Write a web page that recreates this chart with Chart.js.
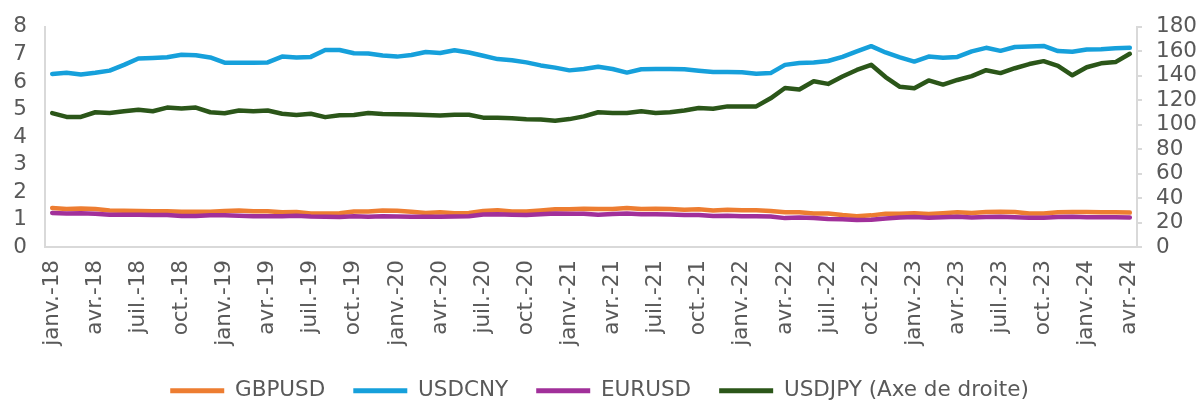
<!DOCTYPE html>
<html>
<head>
<meta charset="utf-8">
<script src="https://cdn.jsdelivr.net/npm/chart.js@4.4.1/dist/chart.umd.min.js"></script>
<style>
html,body{margin:0;padding:0;background:#fff}
#wrap{width:1199px;height:402px}
</style>
</head>
<body>
<div id="wrap"><canvas id="fx" width="1199" height="402"></canvas></div>
<script>
// mois de janv.-18 a avr.-24 (fin de mois)
const moisNoms=["janv.","févr.","mars","avr.","mai","juin","juil.","août","sept.","oct.","nov.","déc."]
const annees=["18","19","20","21","22","23","24"]

const gbpusd=[
1.42,1.38,1.40,1.38,1.33,1.32,1.31,1.30,1.30,1.28,1.28,1.28,
1.31,1.33,1.30,1.30,1.26,1.27,1.22,1.22,1.23,1.29,1.29,1.33,
1.32,1.28,1.24,1.26,1.23,1.24,1.31,1.34,1.29,1.29,1.33,1.37,
1.37,1.39,1.38,1.38,1.42,1.38,1.39,1.38,1.35,1.37,1.33,1.35,
1.34,1.34,1.31,1.26,1.26,1.22,1.22,1.16,1.12,1.15,1.21,1.21,
1.23,1.20,1.23,1.26,1.24,1.27,1.28,1.27,1.22,1.22,1.26,1.27,
1.27,1.26,1.26,1.25]

const usdcny=[
6.29,6.33,6.27,6.33,6.41,6.62,6.85,6.87,6.90,6.99,6.97,6.89,
6.70,6.70,6.70,6.71,6.92,6.89,6.91,7.16,7.16,7.04,7.03,6.96,
6.92,6.98,7.09,7.05,7.15,7.07,6.95,6.83,6.79,6.71,6.60,6.52,
6.42,6.47,6.55,6.47,6.34,6.46,6.47,6.47,6.46,6.41,6.36,6.36,
6.35,6.30,6.32,6.62,6.69,6.71,6.76,6.91,7.11,7.30,7.07,6.89,
6.74,6.92,6.88,6.91,7.11,7.24,7.13,7.27,7.29,7.31,7.12,7.10,
7.18,7.19,7.22,7.24]

const eurusd=[
1.24,1.22,1.23,1.21,1.17,1.17,1.17,1.16,1.16,1.13,1.13,1.15,
1.15,1.14,1.12,1.12,1.12,1.14,1.11,1.10,1.09,1.12,1.10,1.12,
1.11,1.10,1.10,1.10,1.11,1.12,1.18,1.19,1.17,1.16,1.19,1.22,
1.21,1.21,1.17,1.20,1.22,1.19,1.19,1.18,1.16,1.16,1.13,1.14,
1.12,1.12,1.11,1.05,1.07,1.05,1.02,1.01,0.98,0.99,1.04,1.07,
1.09,1.06,1.08,1.10,1.07,1.09,1.10,1.08,1.06,1.06,1.09,1.10,
1.08,1.08,1.08,1.07]

const usdjpy=[
109.5,106.4,106.4,110.2,109.6,111.0,112.3,111.0,114.0,113.2,114.0,110.2,
109.4,111.6,111.0,111.6,109.0,108.0,109.0,106.2,107.8,108.0,109.6,108.8,
108.6,108.3,108.0,107.5,108.2,108.2,105.8,105.6,105.2,104.4,104.2,103.2,
104.6,106.8,110.2,109.6,109.6,111.0,109.6,110.2,111.6,113.6,113.0,115.0,
115.0,115.0,121.6,130.0,128.8,135.6,133.4,139.4,144.8,149.0,139.0,131.0,
129.8,136.2,132.8,136.6,139.8,144.6,142.2,146.2,149.6,152.0,148.2,140.4,
147.0,150.2,151.2,158.0]

const ticksGauche=[0,8,1]
const ticksDroite=[0,180,20]

let labels=[]
annees.forEach(a=>{
moisNoms.forEach(m=>{
labels.push(m+"-"+a)
})
})
labels=labels.slice(0,usdjpy.length)

const gris="#595959"
const axe="#d9d9d9"
const police={family:"DejaVu Sans",size:21.5}

function serie(nom,data,couleur,axeY,ordre){
return{
label:nom,
data:data,
borderColor:couleur,
backgroundColor:couleur,
borderWidth:4.5,
pointRadius:0,
tension:0,
borderJoinStyle:"round",
borderCapStyle:"round",
yAxisID:axeY,
order:ordre
}
}

// hauteur fixe pour la legende
const hauteurLegende={
id:"hauteurLegende",
beforeLayout(c){
const lg=c.legend
if(lg&&!lg._fixe){
const fit=lg.fit.bind(lg)
lg.fit=function(){fit();this.height=50}
lg._fixe=true
}
}
}

const ctx=document.getElementById("fx").getContext("2d")

const chart=new Chart(ctx,{
type:"line",
data:{
labels:labels,
datasets:[
serie("GBPUSD",gbpusd,"#ed7d31","y",3),
serie("USDCNY",usdcny,"#16a0db","y",2),
serie("EURUSD",eurusd,"#a1309a","y",1),
serie("USDJPY (Axe de droite)",usdjpy,"#2b5619","y1",0)
]
},
plugins:[hauteurLegende],
options:{
responsive:false,
animation:false,
devicePixelRatio:1,
layout:{padding:{top:22,left:0,right:0,bottom:0}},
plugins:{
tooltip:{enabled:false},
legend:{
position:"bottom",
labels:{
font:police,
color:gris,
boxWidth:54,
boxHeight:5,
padding:28,
sort:(a,b)=>a.datasetIndex-b.datasetIndex,
generateLabels:(c)=>{
const items=Chart.defaults.plugins.legend.labels.generateLabels(c)
items.forEach(it=>{it.lineWidth=0})
return items
}
}
}
},
scales:{
x:{
offset:true,
grid:{display:false,drawTicks:false},
border:{display:true,color:axe,width:2},
ticks:{
autoSkip:false,
minRotation:90,
maxRotation:90,
padding:13,
font:police,
color:gris,
callback:(v,i)=>i%3===0?labels[i]:""
},
afterFit:(s)=>{s.height=105}
},
y:{
position:"left",
min:ticksGauche[0],
max:ticksGauche[1],
grid:{display:false},
border:{display:true,color:axe,width:2},
ticks:{stepSize:ticksGauche[2],autoSkip:false,font:police,color:gris,padding:10},
afterFit:(s)=>{s.width=45}
},
y1:{
position:"right",
min:ticksDroite[0],
max:ticksDroite[1],
grid:{display:true,drawOnChartArea:false,tickLength:5,color:axe,lineWidth:2},
border:{display:true,color:axe,width:2},
ticks:{stepSize:ticksDroite[2],autoSkip:false,font:police,color:gris,padding:14},
afterFit:(s)=>{s.width=62}
}
}
}
})
</script>
</body>
</html>
